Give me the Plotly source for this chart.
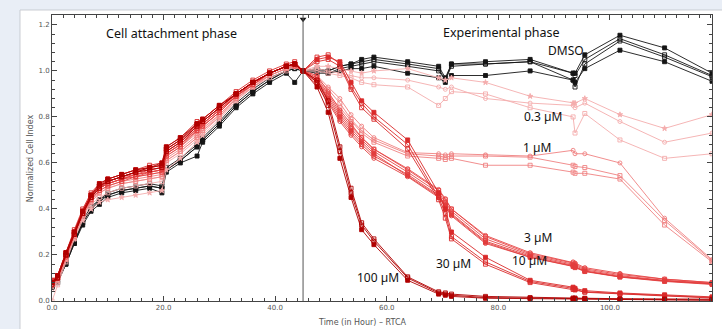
import plotly.graph_objects as go

# ---------------- data ----------------
# time points (hours)
attach_t = [0, 1, 2.5, 4, 5.5, 7, 8.5, 10, 12.5, 15, 17.5, 19.7, 20.5, 23, 26, 27, 30, 33, 36, 39, 42, 43.5]
exp_t = [45.0, 47.5, 49.5, 51.6, 53.6, 55.5, 57.7, 63.75, 69.3, 70.5, 71.6, 77.7, 85.7, 93.4, 93.75, 95.5, 101.8, 109.8, 118.3]

# DMSO (4 wells)
dmso_attach = [
    [0.06, 0.08, 0.16, 0.25, 0.33, 0.39, 0.42, 0.45, 0.47, 0.48, 0.49, 0.47, 0.56, 0.60, 0.63, 0.69, 0.76, 0.84, 0.90, 0.95, 0.99, 0.95],
    [0.06, 0.08, 0.17, 0.26, 0.34, 0.40, 0.43, 0.46, 0.48, 0.49, 0.50, 0.49, 0.57, 0.61, 0.67, 0.70, 0.77, 0.85, 0.91, 0.96, 1.00, 1.01],
    [0.07, 0.09, 0.17, 0.26, 0.35, 0.41, 0.44, 0.47, 0.49, 0.50, 0.51, 0.50, 0.58, 0.62, 0.68, 0.71, 0.78, 0.86, 0.92, 0.97, 1.00, 1.01],
    [0.06, 0.08, 0.16, 0.25, 0.34, 0.40, 0.44, 0.46, 0.48, 0.49, 0.50, 0.49, 0.57, 0.61, 0.67, 0.70, 0.77, 0.85, 0.91, 0.96, 1.00, 1.02],
]
dmso_exp = [
    [1.0, 1.01, 1.00, 1.02, 1.03, 1.05, 1.06, 1.04, 1.02, 0.97, 1.03, 1.04, 1.05, 0.99, 0.99, 1.07, 1.155, 1.10, 0.99],
    [1.0, 1.00, 1.00, 1.02, 1.03, 1.04, 1.05, 1.03, 1.01, 0.96, 1.03, 1.03, 1.04, 0.99, 0.98, 1.05, 1.14, 1.07, 0.98],
    [1.0, 1.00, 0.99, 1.01, 1.02, 1.03, 1.04, 1.02, 1.00, 0.96, 1.02, 1.03, 1.04, 0.96, 0.93, 1.03, 1.13, 1.06, 0.975],
    [1.0, 0.99, 0.99, 1.00, 1.01, 1.01, 1.02, 0.99, 0.97, 0.95, 0.98, 0.98, 1.00, 0.96, 0.95, 1.01, 1.09, 1.04, 0.955],
]

# 0.3 uM
c03_attach = [
    [0.07, 0.09, 0.18, 0.27, 0.35, 0.40, 0.43, 0.44, 0.45, 0.46, 0.47, 0.48, 0.57, 0.62, 0.69, 0.72, 0.79, 0.87, 0.93, 0.98, 1.01, 1.02],
    [0.05, 0.08, 0.18, 0.28, 0.37, 0.43, 0.47, 0.49, 0.51, 0.52, 0.53, 0.54, 0.61, 0.65, 0.71, 0.74, 0.81, 0.88, 0.94, 0.98, 1.01, 1.02],
    [0.00, 0.07, 0.17, 0.27, 0.36, 0.42, 0.45, 0.47, 0.49, 0.50, 0.51, 0.52, 0.60, 0.64, 0.70, 0.73, 0.80, 0.87, 0.93, 0.97, 1.00, 1.02],
]
c03_exp = [
    [1.0, 1.02, 1.02, 1.01, 1.00, 0.99, 1.00, 1.01, 0.97, 0.96, 0.97, 0.95, 0.89, 0.86, 0.86, 0.88, 0.81, 0.75, 0.81],
    [1.0, 1.01, 1.00, 0.99, 0.98, 0.97, 0.97, 0.96, 0.93, 0.92, 0.93, 0.88, 0.86, 0.85, 0.84, 0.86, 0.78, 0.69, 0.73],
    [1.0, 1.00, 0.99, 0.98, 0.97, 0.95, 0.94, 0.93, 0.85, 0.88, 0.91, 0.90, 0.84, 0.80, 0.73, 0.815, 0.70, 0.62, 0.64],
]

# 1 uM
c1_attach = [
    [0.07, 0.10, 0.20, 0.29, 0.38, 0.45, 0.49, 0.51, 0.53, 0.54, 0.55, 0.56, 0.63, 0.67, 0.73, 0.76, 0.82, 0.89, 0.94, 0.99, 1.02, 1.03],
    [0.08, 0.10, 0.19, 0.28, 0.37, 0.44, 0.48, 0.50, 0.52, 0.53, 0.54, 0.55, 0.62, 0.66, 0.72, 0.75, 0.81, 0.88, 0.94, 0.98, 1.01, 1.02],
    [0.07, 0.09, 0.18, 0.28, 0.37, 0.43, 0.47, 0.49, 0.51, 0.52, 0.53, 0.54, 0.61, 0.65, 0.71, 0.74, 0.80, 0.88, 0.93, 0.98, 1.01, 1.02],
]
c1_exp = [
    [1.0, 0.98, 0.93, 0.88, 0.81, 0.76, 0.71, 0.645, 0.64, 0.635, 0.64, 0.635, 0.63, 0.655, 0.64, 0.64, 0.60, 0.36, 0.18],
    [1.0, 0.97, 0.92, 0.86, 0.79, 0.74, 0.70, 0.64, 0.63, 0.625, 0.63, 0.63, 0.625, 0.59, 0.585, 0.58, 0.545, 0.35, 0.175],
    [1.0, 0.96, 0.90, 0.84, 0.78, 0.73, 0.69, 0.63, 0.62, 0.615, 0.62, 0.59, 0.59, 0.56, 0.555, 0.555, 0.53, 0.33, 0.17],
]

# 3 uM
c3_attach = [
    [0.08, 0.10, 0.20, 0.29, 0.38, 0.45, 0.49, 0.51, 0.53, 0.55, 0.56, 0.57, 0.64, 0.68, 0.75, 0.77, 0.83, 0.89, 0.95, 0.99, 1.02, 1.03],
    [0.08, 0.11, 0.20, 0.30, 0.39, 0.46, 0.50, 0.52, 0.54, 0.55, 0.57, 0.58, 0.65, 0.69, 0.75, 0.77, 0.83, 0.90, 0.95, 0.99, 1.02, 1.03],
    [0.07, 0.10, 0.19, 0.29, 0.38, 0.45, 0.49, 0.51, 0.53, 0.54, 0.56, 0.57, 0.64, 0.68, 0.74, 0.76, 0.82, 0.89, 0.94, 0.99, 1.02, 1.02],
]
c3_exp = [
    [1.0, 0.97, 0.90, 0.82, 0.76, 0.71, 0.66, 0.57, 0.48, 0.44, 0.40, 0.28, 0.205, 0.165, 0.16, 0.14, 0.115, 0.095, 0.08],
    [1.0, 0.96, 0.89, 0.81, 0.75, 0.70, 0.65, 0.56, 0.47, 0.43, 0.39, 0.27, 0.20, 0.16, 0.155, 0.135, 0.11, 0.09, 0.077],
    [1.0, 0.98, 0.91, 0.83, 0.77, 0.71, 0.66, 0.575, 0.485, 0.445, 0.40, 0.285, 0.21, 0.17, 0.165, 0.145, 0.12, 0.095, 0.08],
]

# 10 uM
c10_attach = [
    [0.08, 0.10, 0.20, 0.29, 0.38, 0.44, 0.48, 0.50, 0.52, 0.54, 0.55, 0.56, 0.63, 0.67, 0.74, 0.76, 0.82, 0.89, 0.94, 0.99, 1.02, 1.03],
    [0.09, 0.11, 0.21, 0.30, 0.39, 0.46, 0.50, 0.52, 0.54, 0.56, 0.57, 0.58, 0.65, 0.69, 0.76, 0.78, 0.84, 0.90, 0.95, 0.99, 1.02, 1.03],
    [0.08, 0.10, 0.20, 0.29, 0.38, 0.45, 0.49, 0.51, 0.53, 0.55, 0.56, 0.57, 0.64, 0.68, 0.75, 0.77, 0.83, 0.89, 0.95, 0.99, 1.02, 1.03],
]
c10_exp = [
    [1.0, 0.95, 0.87, 0.79, 0.73, 0.68, 0.63, 0.55, 0.46, 0.42, 0.38, 0.26, 0.195, 0.155, 0.15, 0.13, 0.105, 0.087, 0.074],
    [1.0, 0.96, 0.88, 0.80, 0.74, 0.69, 0.64, 0.545, 0.455, 0.415, 0.375, 0.255, 0.19, 0.15, 0.145, 0.128, 0.104, 0.085, 0.072],
    [1.0, 0.94, 0.86, 0.78, 0.72, 0.67, 0.62, 0.54, 0.45, 0.41, 0.37, 0.25, 0.19, 0.152, 0.147, 0.13, 0.106, 0.088, 0.075],
]

# 30 uM
c30_attach = [
    [0.08, 0.11, 0.21, 0.30, 0.39, 0.46, 0.50, 0.53, 0.55, 0.57, 0.58, 0.59, 0.66, 0.70, 0.77, 0.79, 0.85, 0.90, 0.95, 0.99, 1.02, 1.03],
    [0.09, 0.11, 0.21, 0.31, 0.40, 0.47, 0.51, 0.53, 0.55, 0.57, 0.59, 0.60, 0.67, 0.71, 0.78, 0.79, 0.85, 0.91, 0.96, 1.00, 1.03, 1.04],
    [0.08, 0.10, 0.20, 0.30, 0.39, 0.46, 0.50, 0.52, 0.54, 0.56, 0.58, 0.59, 0.66, 0.70, 0.76, 0.78, 0.84, 0.90, 0.95, 0.99, 1.02, 1.03],
]
c30_exp = [
    [1.0, 1.05, 1.06, 1.04, 0.95, 0.87, 0.82, 0.70, 0.47, 0.40, 0.30, 0.19, 0.09, 0.06, 0.055, 0.045, 0.035, 0.027, 0.018],
    [1.0, 1.06, 1.07, 1.03, 0.93, 0.86, 0.80, 0.68, 0.45, 0.38, 0.28, 0.17, 0.085, 0.055, 0.05, 0.04, 0.032, 0.024, 0.015],
    [1.0, 1.04, 1.05, 1.02, 0.92, 0.84, 0.79, 0.66, 0.44, 0.36, 0.27, 0.16, 0.08, 0.05, 0.048, 0.038, 0.03, 0.022, 0.013],
]

# 100 uM
c100_attach = [
    [0.08, 0.10, 0.20, 0.29, 0.38, 0.45, 0.50, 0.52, 0.54, 0.56, 0.58, 0.59, 0.66, 0.70, 0.77, 0.78, 0.84, 0.90, 0.95, 0.99, 1.02, 1.03],
    [0.08, 0.11, 0.21, 0.30, 0.39, 0.46, 0.51, 0.53, 0.55, 0.57, 0.58, 0.60, 0.67, 0.71, 0.77, 0.79, 0.85, 0.90, 0.95, 0.99, 1.02, 1.03],
    [0.07, 0.10, 0.20, 0.29, 0.38, 0.45, 0.49, 0.52, 0.54, 0.56, 0.57, 0.58, 0.65, 0.69, 0.76, 0.78, 0.84, 0.90, 0.95, 0.99, 1.02, 1.03],
]
c100_exp = [
    [1.0, 0.95, 0.85, 0.65, 0.47, 0.33, 0.26, 0.10, 0.035, 0.03, 0.025, 0.015, 0.012, 0.01, 0.01, 0.01, 0.008, 0.006, 0.005],
    [1.0, 0.93, 0.82, 0.62, 0.45, 0.31, 0.245, 0.09, 0.03, 0.025, 0.02, 0.012, 0.01, 0.008, 0.008, 0.008, 0.006, 0.004, 0.003],
    [1.0, 0.96, 0.87, 0.67, 0.49, 0.34, 0.27, 0.105, 0.04, 0.035, 0.03, 0.02, 0.015, 0.013, 0.013, 0.012, 0.01, 0.009, 0.008],
]

group_labels = ["DMSO", "0.3 µM", "1 µM", "3 µM", "10 µM", "30 µM", "100 µM"]
label_x = [92.1, 88.0, 86.9, 87.1, 85.6, 71.9, 58.5]
label_y = [1.09, 0.80, 0.668, 0.277, 0.177, 0.164, 0.103]
phase_labels = ["Cell attachment phase", "Experimental phase"]
phase_x = [21.4, 80.5]
phase_y = [1.162, 1.166]
x_title = "Time (in Hour) – RTCA"
y_title = "Normalized Cell Index"
t_add = 45.0

# ---------------- styles ----------------
groups = [
    (dmso_attach, dmso_exp, "#151515", ["square", "square-open", "square-open", "square"]),
    (c03_attach, c03_exp, "#f4adad", ["star", "circle-open", "square-open"]),
    (c1_attach, c1_exp, "#ef8181", ["circle-open", "square-open", "square-open"]),
    (c3_attach, c3_exp, "#e64646", ["square-open", "square-open", "circle-open"]),
    (c10_attach, c10_exp, "#e23d3d", ["square-open", "square", "circle-open"]),
    (c30_attach, c30_exp, "#da2a2a", ["square", "square-open", "square-open"]),
    (c100_attach, c100_exp, "#b00000", ["square-open", "square", "square-open"]),
]

fig = go.Figure()
for att, ex, col, syms in groups:
    for ri in range(len(att)):
        fig.add_trace(go.Scatter(
            x=attach_t + exp_t, y=att[ri] + ex[ri], mode="lines+markers",
            line=dict(color=col, width=0.9),
            marker=dict(symbol=syms[ri], size=4, color=col,
                        line=dict(color=col, width=0.9)),
            showlegend=False, hoverinfo="skip",
        ))

font = "Noto Sans"
tfont = "DejaVu Sans"
ann = []
for txt, x, y in zip(phase_labels, phase_x, phase_y):
    ann.append(dict(x=x, y=y, xref="x", yref="y", text=txt, showarrow=False,
                    font=dict(family=font, size=12.5, color="#111")))
for txt, x, y in zip(group_labels, label_x, label_y):
    ann.append(dict(x=x, y=y, xref="x", yref="y", text=txt, showarrow=False,
                    font=dict(family=font, size=12, color="#111")))
# axis titles (placed like the original, slightly left of centre)
ann.append(dict(x=0.471, y=-0.075, xref="paper", yref="paper", text=x_title, showarrow=False,
                xanchor="center", yanchor="middle",
                font=dict(family=tfont, size=8, color="#555")))
ann.append(dict(x=-0.033, y=0.5, xref="paper", yref="paper", text=y_title, showarrow=False,
                textangle=-90, xanchor="center", yanchor="middle",
                font=dict(family=tfont, size=8, color="#555")))

shapes = [
    # white panel on the light page
    dict(type="rect", xref="paper", yref="paper", x0=-0.0485, x1=1.2, y0=-0.2, y1=1.0175,
         fillcolor="white", line=dict(color="#c9ccd2", width=1), layer="below"),
    # compound addition line
    dict(type="line", xref="x", yref="paper", x0=t_add, x1=t_add, y0=0, y1=1,
         line=dict(color="#555555", width=1)),
]
# addition marker triangle at top
fig.add_trace(go.Scatter(x=[t_add], y=[1.225], mode="markers",
                         marker=dict(symbol="triangle-down", size=6, color="#111"),
                         showlegend=False, hoverinfo="skip", cliponaxis=False))

axis_common = dict(showline=True, linecolor="#444", linewidth=1, mirror="allticks",
                   ticks="inside", tickcolor="#444", showgrid=False, zeroline=False,
                   automargin=False,
                   tickfont=dict(family=tfont, size=7, color="#555"))

fig.update_layout(
    width=722, height=329,
    margin=dict(l=52, r=10, t=15, b=28),
    paper_bgcolor="#e9eef6", plot_bgcolor="white",
    xaxis=dict(range=[0, 118.3], dtick=20, tickformat=".1f", ticklen=5,
               minor=dict(dtick=2, ticks="inside", ticklen=3, tickcolor="#444"),
               **axis_common),
    yaxis=dict(range=[0, 1.243], dtick=0.2, tickformat=".1f", ticklen=5,
               minor=dict(dtick=0.04, ticks="inside", ticklen=3, tickcolor="#444"),
               **axis_common),
    annotations=ann,
    shapes=shapes,
)

fig.write_html("out.html",
               config={"displayModeBar": False},
               post_script="document.body.style.margin='0';"
                           "document.body.style.background='#e9eef6';")
